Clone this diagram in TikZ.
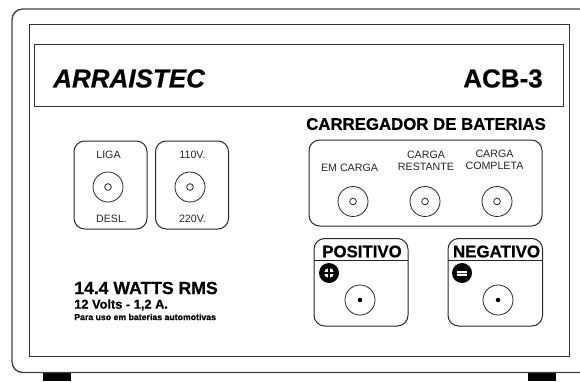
\documentclass[tikz,border=0pt]{standalone}
\usepackage{fontspec}
\setmainfont[BoldFeatures={FakeBold=0.5},BoldItalicFeatures={FakeBold=0.5}]{Liberation Sans}
\usetikzlibrary{positioning}
\newcommand{\fsize}[1]{\fontsize{#1}{#1}\selectfont}
\tikzset{
  panelline/.style={draw=black!80, line width=0.75pt},
  keybox/.style={draw=black!85, line width=0.75pt, rounded corners=8pt},
  jack/.style={circle, draw=black!85, line width=0.6pt, minimum size=22.5pt, inner sep=0pt},
  hole/.style={circle, draw=black!85, line width=0.6pt, minimum size=5pt, inner sep=0pt},
  pin/.style={circle, fill=black, minimum size=3.4pt, inner sep=0pt},
  badge/.style={circle, fill=black, minimum size=15pt, inner sep=0pt},
  small/.style={inner sep=0pt, font=\fsize{8}, text=black!85, align=center},
  heading/.style={inner sep=0pt, font=\bfseries\fsize{12.6}}
}
\begin{document}
\begin{tikzpicture}[x=0.75pt, y=-0.75pt]
\useasboundingbox (0,0) rectangle (580,381);

% case
\fill[black] (43,372) rectangle (71,381);
\fill[black] (528,372) rectangle (556,381);
\draw[black!75, line width=1pt, rounded corners=8pt] (580,9) -- (12,9) -- (12,372.5) -- (580,372.5);

% panel
\draw[panelline] (29.5,24.5) rectangle (569.5,356.5);
\draw[panelline] (34,45) rectangle (563,107);
\node[inner sep=0pt, anchor=west, font=\bfseries\itshape\fsize{19.5}] (brand) at (53,78.5) {ARRAISTEC};
\node[inner sep=0pt, anchor=east, font=\bfseries\fsize{19.5}] (model) at (543,78.5) {ACB-3};
\node[heading] (title) at (426,124) {CARREGADOR DE BATERIAS};

% switches
\draw[keybox] (74,141) rectangle (147,229);
\draw[keybox] (155.5,141) rectangle (228.5,229);
\node[jack] (power) at (108,187) {};
\node[hole] at (power.center) {};
\node[jack] (volt) at (190,187) {};
\node[hole] at (volt.center) {};
\node[small] (liga) at (108.5,155) {LIGA};
\node[small] (desl) at (111.5,218.5) {DESL.};
\node[small] (v110) at (192.5,155) {110V.};
\node[small] (v220) at (192.5,218.5) {220V.};

% leds
\draw[keybox] (309,140) rectangle (542,226);
\foreach \name/\xpos in {ledA/353, ledB/425, ledC/497} {
  \node[jack] (\name) at (\xpos,201.5) {};
  \node[hole] at (\name.center) {};
}
\node[small] (emcarga) at (349.5,168) {EM CARGA};
\node[small] (restante) at (426,161) {CARGA\\[1pt]RESTANTE};
\node[small] (completa) at (494.5,160) {CARGA\\[1pt]COMPLETA};

% terminals
\draw[keybox] (314,238.5) rectangle (408,326);
\draw[keybox] (448,238.5) rectangle (542.5,326);
\draw[black!85, line width=0.75pt] (314,260) -- (408,260);
\draw[black!85, line width=0.75pt] (448,260) -- (542.5,260);
\node[inner sep=0pt, font=\bfseries\fsize{12.6}] (pos) at (362,251.5) {POSITIVO};
\node[inner sep=0pt, font=\bfseries\fsize{12.7}] (neg) at (496.5,251.5) {NEGATIVO};
\node[jack] (jackpos) at (360,300) {};
\node[pin] at (jackpos.center) {};
\node[jack] (jackneg) at (498,300) {};
\node[pin] at (jackneg.center) {};
\node[badge] (plus) at (329,273) {};
\fill[white] (plus.center) circle (5);
\draw[black, line width=1.2pt] (plus.center) +(-6,0) -- +(6,0) (plus.center) +(0,-6) -- +(0,6);
\node[badge] (minus) at (462,273) {};
\fill[white] (minus.center) +(-5,-2.5) rectangle +(5,2.5);
\draw[black!70, line width=0.7pt] (minus.center) +(-5,0) -- +(5,0);

% ratings
\node[inner sep=0pt, anchor=west, font=\bfseries\fsize{13.2}] (watts) at (74,288) {14.4 WATTS RMS};
\node[inner sep=0pt, anchor=west, font=\bfseries\fsize{9.6}] (volts) at (74,305) {12 Volts - 1,2 A.};
\node[inner sep=0pt, anchor=west, font=\bfseries\fsize{6.55}] (uso) at (74,317) {Para uso em baterias automotivas};

\end{tikzpicture}
\end{document}
